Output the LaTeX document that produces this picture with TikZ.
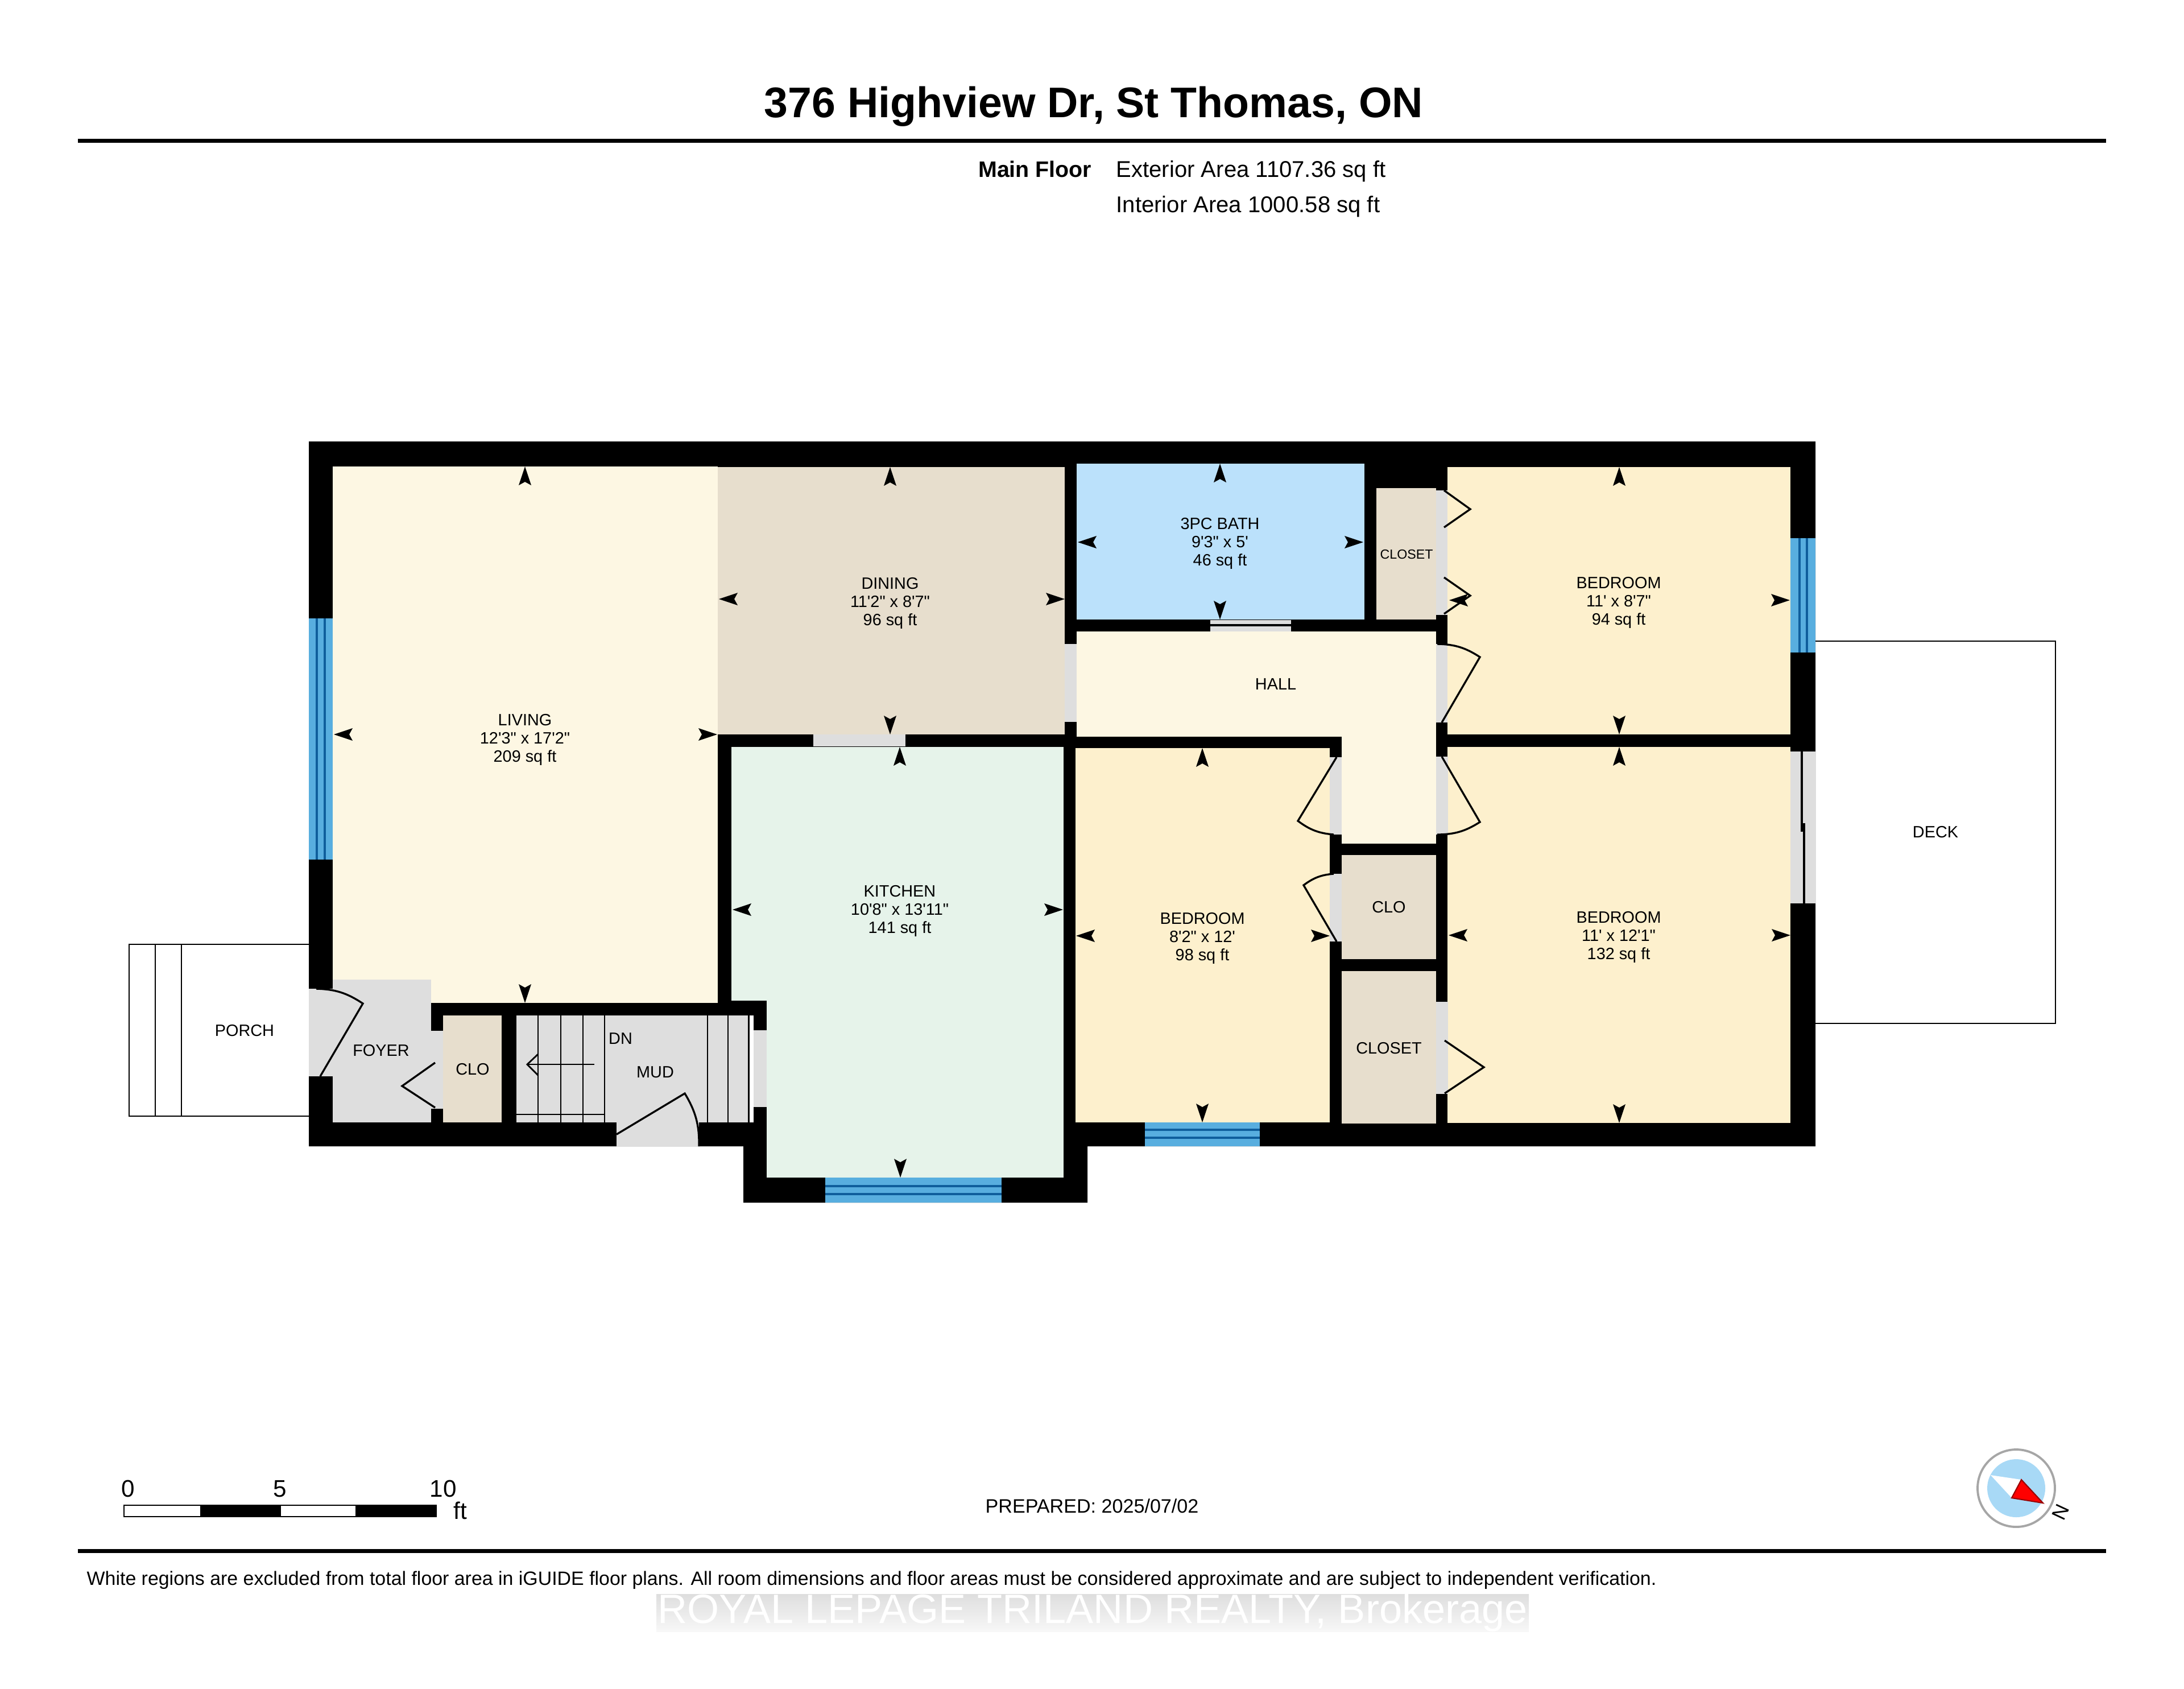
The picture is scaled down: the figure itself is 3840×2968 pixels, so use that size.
\documentclass[tikz,border=0pt]{standalone}
\usepackage{fontspec}
\newfontfamily\planfont{Liberation Sans}
\definecolor{wallcol}{HTML}{000000}
\definecolor{warmcol}{HTML}{FDF7E3}
\definecolor{tancol}{HTML}{E7DECD}
\definecolor{bathcol}{HTML}{BBE1FB}
\definecolor{bedcol}{HTML}{FDF0CD}
\definecolor{kitchencol}{HTML}{E6F3EA}
\definecolor{doorcol}{HTML}{DEDEDE}
\definecolor{glasscol}{HTML}{58AEDF}
\definecolor{muntincol}{HTML}{0F5E9C}
\definecolor{dialcol}{HTML}{A8D9F6}
\tikzstyle{roomlabel}=[font=\planfont\fontsize{8.2}{9.1}\selectfont,align=center,inner sep=0pt]
\tikzstyle{smalllabel}=[font=\planfont\fontsize{6.6}{8}\selectfont,inner sep=0pt]
\tikzstyle{inforow}=[font=\planfont\fontsize{11.4}{13}\selectfont,inner sep=0pt]
\tikzstyle{scalelabel}=[font=\planfont\fontsize{12}{14}\selectfont,inner sep=0pt]
\tikzstyle{doorline}=[draw,line width=0.95pt]
\tikzstyle{thinline}=[draw,line width=0.8pt]
\tikzstyle{dimtip}=[fill=black]
\begin{document}
\begin{tikzpicture}[x=0.01cm,y=-0.01cm]
    \useasboundingbox (0,0) rectangle (3840,2968);
    % Heading, rules and area figures
    \node[font=\planfont\bfseries\fontsize{21.4}{25}\selectfont,inner sep=0pt] (title) at (1923,187) {376 Highview Dr, St Thomas, ON};
    \fill (137,244) rectangle (3703,251);
    \fill (137,2723) rectangle (3703,2730);
    \node[inforow,anchor=east,font=\planfont\bfseries\fontsize{11.2}{13}\selectfont] (floorname) at (1920,297) {Main Floor};
    \node[inforow,anchor=west] (exterior) at (1962,301) {Exterior Area 1107.36 sq ft};
    \node[inforow,anchor=west] (interior) at (1962,363) {Interior Area 1000.58 sq ft};
    % Outer outline of the walls, the rooms are cut out of it
    \fill[wallcol] (543,776) -- (3192,776) -- (3192,2015) -- (1912,2015) -- (1912,2114)
        -- (1307,2114) -- (1307,2015) -- (543,2015) -- cycle;
    \foreach \xa/\ya/\xb/\yb/\col in {585/820/1262/1763/warmcol, 1262/821/1872/1291/tancol,
        1893/815/2399/1089/bathcol, 1893/1110/2525/1295/warmcol, 2359/1295/2525/1483/warmcol,
        2545/821/3148/1291/bedcol, 2545/1313/3148/1974/bedcol, 1891/1315/2338/1973/bedcol,
        2420/858/2525/1089/tancol, 2359/1503/2525/1686/tancol, 2359/1707/2525/1975/tancol,
        1286/1313/1870/1759/kitchencol, 1348/1759/1870/2070/kitchencol,
        585/1722/758/1973/doorcol, 779/1785/882/1973/tancol, 908/1785/1316/1973/doorcol,
        1318/1785/1325/1973/white}
        \fill[\col] (\xa,\ya) rectangle (\xb,\yb);
    % Door openings in the walls
    \foreach \xa/\ya/\xb/\yb in {543/1738/585/1892, 758/1812/779/1949, 1325/1811/1348/1946,
        1084/1973/1229/2015, 1430/1291/1592/1312, 1872/1132/1893/1269, 2128/1090/2270/1110,
        2525/862/2545/1081, 2525/1132/2545/1270, 2525/1330/2546/1467, 2338/1331/2359/1467,
        2338/1536/2359/1655, 2525/1761/2546/1923, 3148/1321/3192/1588}
        \fill[doorcol] (\xa,\ya) rectangle (\xb,\yb);
    % Windows
    \foreach \xa/\ya/\xb/\yb in {543/1087/585/1511, 3148/946/3192/1147, 2013/1973/2215/2015, 1451/2070/1761/2114}
        \fill[glasscol] (\xa,\ya) rectangle (\xb,\yb);
    \foreach \xa/\ya/\xb/\yb in {557/1087/557/1511, 571/1087/571/1511, 3164/946/3164/1147, 3177/946/3177/1147,
        2013/1986/2215/1986, 2013/2000/2215/2000, 1451/2085/1761/2085, 1451/2099/1761/2099}
        \draw[muntincol,line width=0.9pt] (\xa,\ya) -- (\xb,\yb);
    % Swing doors, leaf and arc
    \foreach \ax/\ay/\bx/\by/\cx/\cy/\bend in {2535/1270/2602/1155/2527/1132/-16, 2535/1330/2602/1445/2527/1467/16,
        2350/1331/2282/1443/2345/1467/-16, 2350/1655/2292/1556/2345/1536/16,
        563/1892/638/1764/556/1738/-16, 1084/1994/1204/1922/1229/2015/16}
        \draw[doorline] (\ax,\ay) -- (\bx,\by) to[bend left=\bend] (\cx,\cy);
    % Folding doors
    \foreach \ax/\ay/\bx/\by/\cx/\cy in {765/1868/707/1909/765/1947, 2539/862/2585/895/2539/927,
        2539/1015/2585/1047/2539/1079, 2540/1829/2609/1876/2540/1922}
        \draw[doorline] (\ax,\ay) -- (\bx,\by) -- (\cx,\cy);
    % Sliding doors
    \draw[doorline] (2128,1099) -- (2270,1099);
    \draw[line width=1.1pt] (3168,1321) -- (3168,1462);
    \draw[line width=1.1pt] (3172,1447) -- (3172,1588);
    % Stairs
    \foreach \x in {946,986,1025,1063,1244,1280,1316}
        \draw[thinline] (\x,1785) -- (\x,1973);
    \draw[thinline] (908,1959) -- (1063,1959);
    \draw[thinline] (1045,1871) -- (927,1871);
    \draw[thinline] (946,1853) -- (927,1871) -- (946,1890);
    % Porch and deck
    \draw[thinline] (543,1660) -- (227,1660) -- (227,1962) -- (543,1962);
    \foreach \x in {273,319}
        \draw[thinline] (\x,1660) -- (\x,1962);
    \draw[thinline] (3192,1127) -- (3614,1127) -- (3614,1799) -- (3192,1799);
    % Measuring tips on the room edges
    \foreach \pos/\ang in {(923,820)/90, (923,1763)/-90, (587,1291)/180, (1261,1291)/0,
        (1565,821)/90, (1565,1291)/-90, (1264,1053)/180, (1872,1053)/0,
        (2145,815)/90, (2145,1089)/-90, (1895,953)/180, (2397,953)/0,
        (2847,821)/90, (2847,1291)/-90, (2548,1055)/180, (3147,1055)/0,
        (2847,1313)/90, (2847,1974)/-90, (2547,1644)/180, (3148,1644)/0,
        (2114,1315)/90, (2114,1973)/-90, (1892,1645)/180, (2338,1645)/0,
        (1582,1313)/90, (1583,2070)/-90, (1288,1599)/180, (1869,1599)/0}
        \fill[dimtip,shift={\pos},rotate=\ang] (0,0) -- (-33,-11) -- (-27,0) -- (-33,11) -- cycle;
    % Room names
    \foreach \pos/\name/\txt in {(923,1300)/living/{LIVING\\12'3" x 17'2"\\209 sq ft},
        (1565,1060)/dining/{DINING\\11'2" x 8'7"\\96 sq ft}, (2145,955)/bath/{3PC BATH\\9'3" x 5'\\46 sq ft},
        (2846,1059)/bedne/{BEDROOM\\11' x 8'7"\\94 sq ft}, (2846,1647)/bedse/{BEDROOM\\11' x 12'1"\\132 sq ft},
        (2114,1649)/bedsw/{BEDROOM\\8'2" x 12'\\98 sq ft}, (1582,1601)/kitchen/{KITCHEN\\10'8" x 13'11"\\141 sq ft},
        (2243,1203)/hall/{HALL}, (430,1812)/porch/{PORCH}, (670,1847)/foyer/{FOYER}, (831,1880)/cloa/{CLO},
        (1091,1826)/down/{DN}, (1152,1885)/mud/{MUD}, (2442,1595)/clob/{CLO}, (2442,1843)/closeta/{CLOSET},
        (3403,1463)/deck/{DECK}}
        \node[roomlabel] (\name) at \pos {\txt};
    \node[smalllabel] (closetb) at (2473,974) {CLOSET};
    % Scale bar
    \foreach \xa/\xb/\col in {218/353/white, 353/493/black, 493/626/white, 626/767/black}
        \filldraw[fill=\col,draw=black,line width=0.7pt] (\xa,2646) rectangle (\xb,2666);
    \foreach \pos/\name/\txt in {(225,2617)/scalea/0, (492,2617)/scaleb/5, (779,2617)/scalec/10, (809,2655)/scaleunit/ft}
        \node[scalelabel] (\name) at \pos {\txt};
    \node[font=\planfont\fontsize{9.7}{12}\selectfont,inner sep=0pt] (prepared) at (1920,2647) {PREPARED: 2025/07/02};
    % Compass
    \filldraw[fill=white,draw=black!35,line width=1.1pt] (3545,2616) circle (68);
    \fill[dialcol] (3545,2616) circle (51);
    \fill[white] (3500,2593) -- (3554,2601) -- (3592,2642) -- (3537,2633) -- cycle;
    \filldraw[fill=red,draw=red!60!black,line width=0.6pt] (3554,2601) -- (3592,2642) -- (3537,2633) -- cycle;
    \node[font=\planfont\fontsize{10}{12}\selectfont,inner sep=0pt,rotate=-115] (north) at (3623,2658) {N};
    % Footer
    \node[anchor=west,font=\planfont\fontsize{9.64}{11}\selectfont,inner sep=0pt] (note) at (152,2778) {White regions are excluded from total floor area in iGUIDE floor plans. All room dimensions and floor areas must be considered approximate and are subject to independent verification.};
    \shade[top color=black!13,bottom color=black!3] (1154,2802) rectangle (2688,2868);
    \node[font=\planfont\fontsize{20.5}{24}\selectfont,text=white,inner sep=0pt] (agency) at (1921,2835) {ROYAL LEPAGE TRILAND REALTY, Brokerage};
\end{tikzpicture}
\end{document}
